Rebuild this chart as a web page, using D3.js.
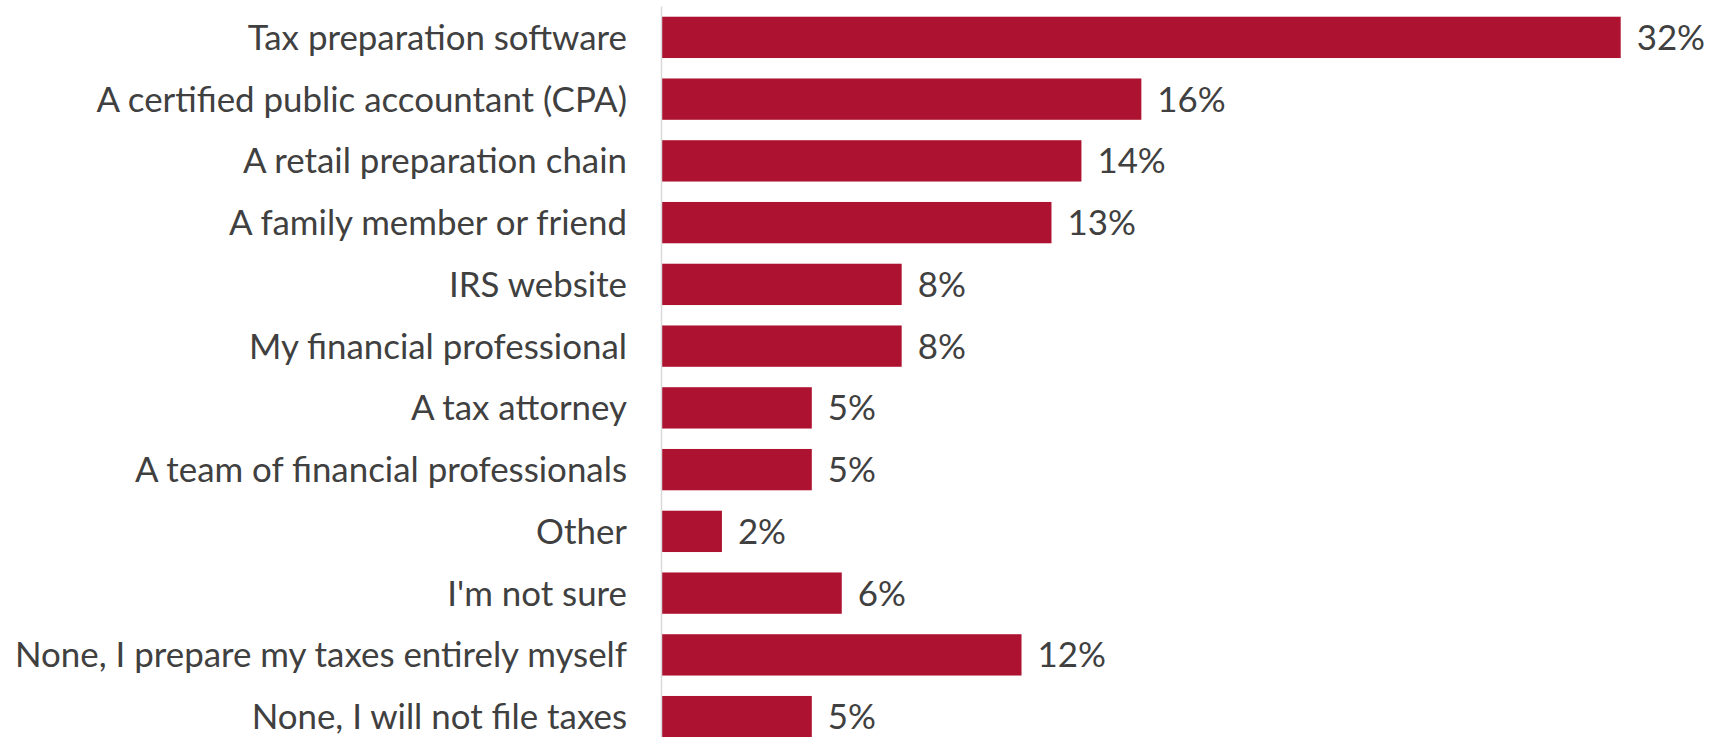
<!DOCTYPE html>
<html>
<head>
<meta charset="utf-8">
<script src="https://cdn.jsdelivr.net/npm/d3@7"></script>
<style>
  html, body { margin: 0; padding: 0; background: #ffffff; }
  svg { display: block; }
</style>
</head>
<body>
<svg id="chart" width="1711" height="737"></svg>
<script>
// Survey: who helps respondents prepare their taxes (share of respondents)
const categories = [
  "Tax preparation software",
  "A certified public accountant (CPA)",
  "A retail preparation chain",
  "A family member or friend",
  "IRS website",
  "My financial professional",
  "A tax attorney",
  "A team of financial professionals",
  "Other",
  "I'm not sure",
  "None, I prepare my taxes entirely myself",
  "None, I will not file taxes"
];
const values = [32, 16, 14, 13, 8, 8, 5, 5, 2, 6, 12, 5];
const valueLabels = values.map(v => v + "%");

const W = 1711, H = 737;
const axisX = 662;
const svg = d3.select("#chart");

const fontFamily = "Lato, 'Open Sans', 'Liberation Sans', sans-serif";
const textColor = "#404040";
const barColor = "#AD1230";

// Size the label font so the longest category spans the label column
const probe = svg.append("text").attr("font-family", fontFamily).attr("font-size", 30)
  .text(categories.reduce((a, b) => a.length > b.length ? a : b));
const probeW = probe.node().getComputedTextLength();
probe.remove();
const fontSize = Math.max(20, Math.min(36, 30 * 612 / probeW));
const capOffset = fontSize * 0.36;

const x = d3.scaleLinear().domain([0, 32]).range([axisX, 1620.7]);
const y = d3.scaleBand().domain(categories).range([6.5, 6.5 + 12 * 61.75])
  .paddingInner(0.331).paddingOuter(0.1655);

// Bars
svg.append("g").selectAll("rect")
  .data(categories)
  .join("rect")
  .attr("x", axisX)
  .attr("y", d => y(d))
  .attr("width", (d, i) => x(values[i]) - axisX)
  .attr("height", y.bandwidth())
  .attr("fill", barColor);

// Vertical category axis line
svg.append("line")
  .attr("x1", axisX - 0.5).attr("x2", axisX - 0.5)
  .attr("y1", 6.5).attr("y2", H)
  .attr("stroke", "#d9d9d9").attr("stroke-width", 1.5);

// Category labels
svg.append("g").selectAll("text")
  .data(categories)
  .join("text")
  .attr("x", 627)
  .attr("y", d => y(d) + y.bandwidth() / 2 + capOffset)
  .attr("text-anchor", "end")
  .attr("font-family", fontFamily)
  .attr("font-size", fontSize)
  .attr("fill", textColor)
  .text(d => d);

// Value labels
svg.append("g").selectAll("text")
  .data(categories)
  .join("text")
  .attr("x", (d, i) => x(values[i]) + 16)
  .attr("y", d => y(d) + y.bandwidth() / 2 + capOffset)
  .attr("font-family", fontFamily)
  .attr("font-size", fontSize)
  .attr("fill", textColor)
  .text((d, i) => valueLabels[i]);
</script>
</body>
</html>
